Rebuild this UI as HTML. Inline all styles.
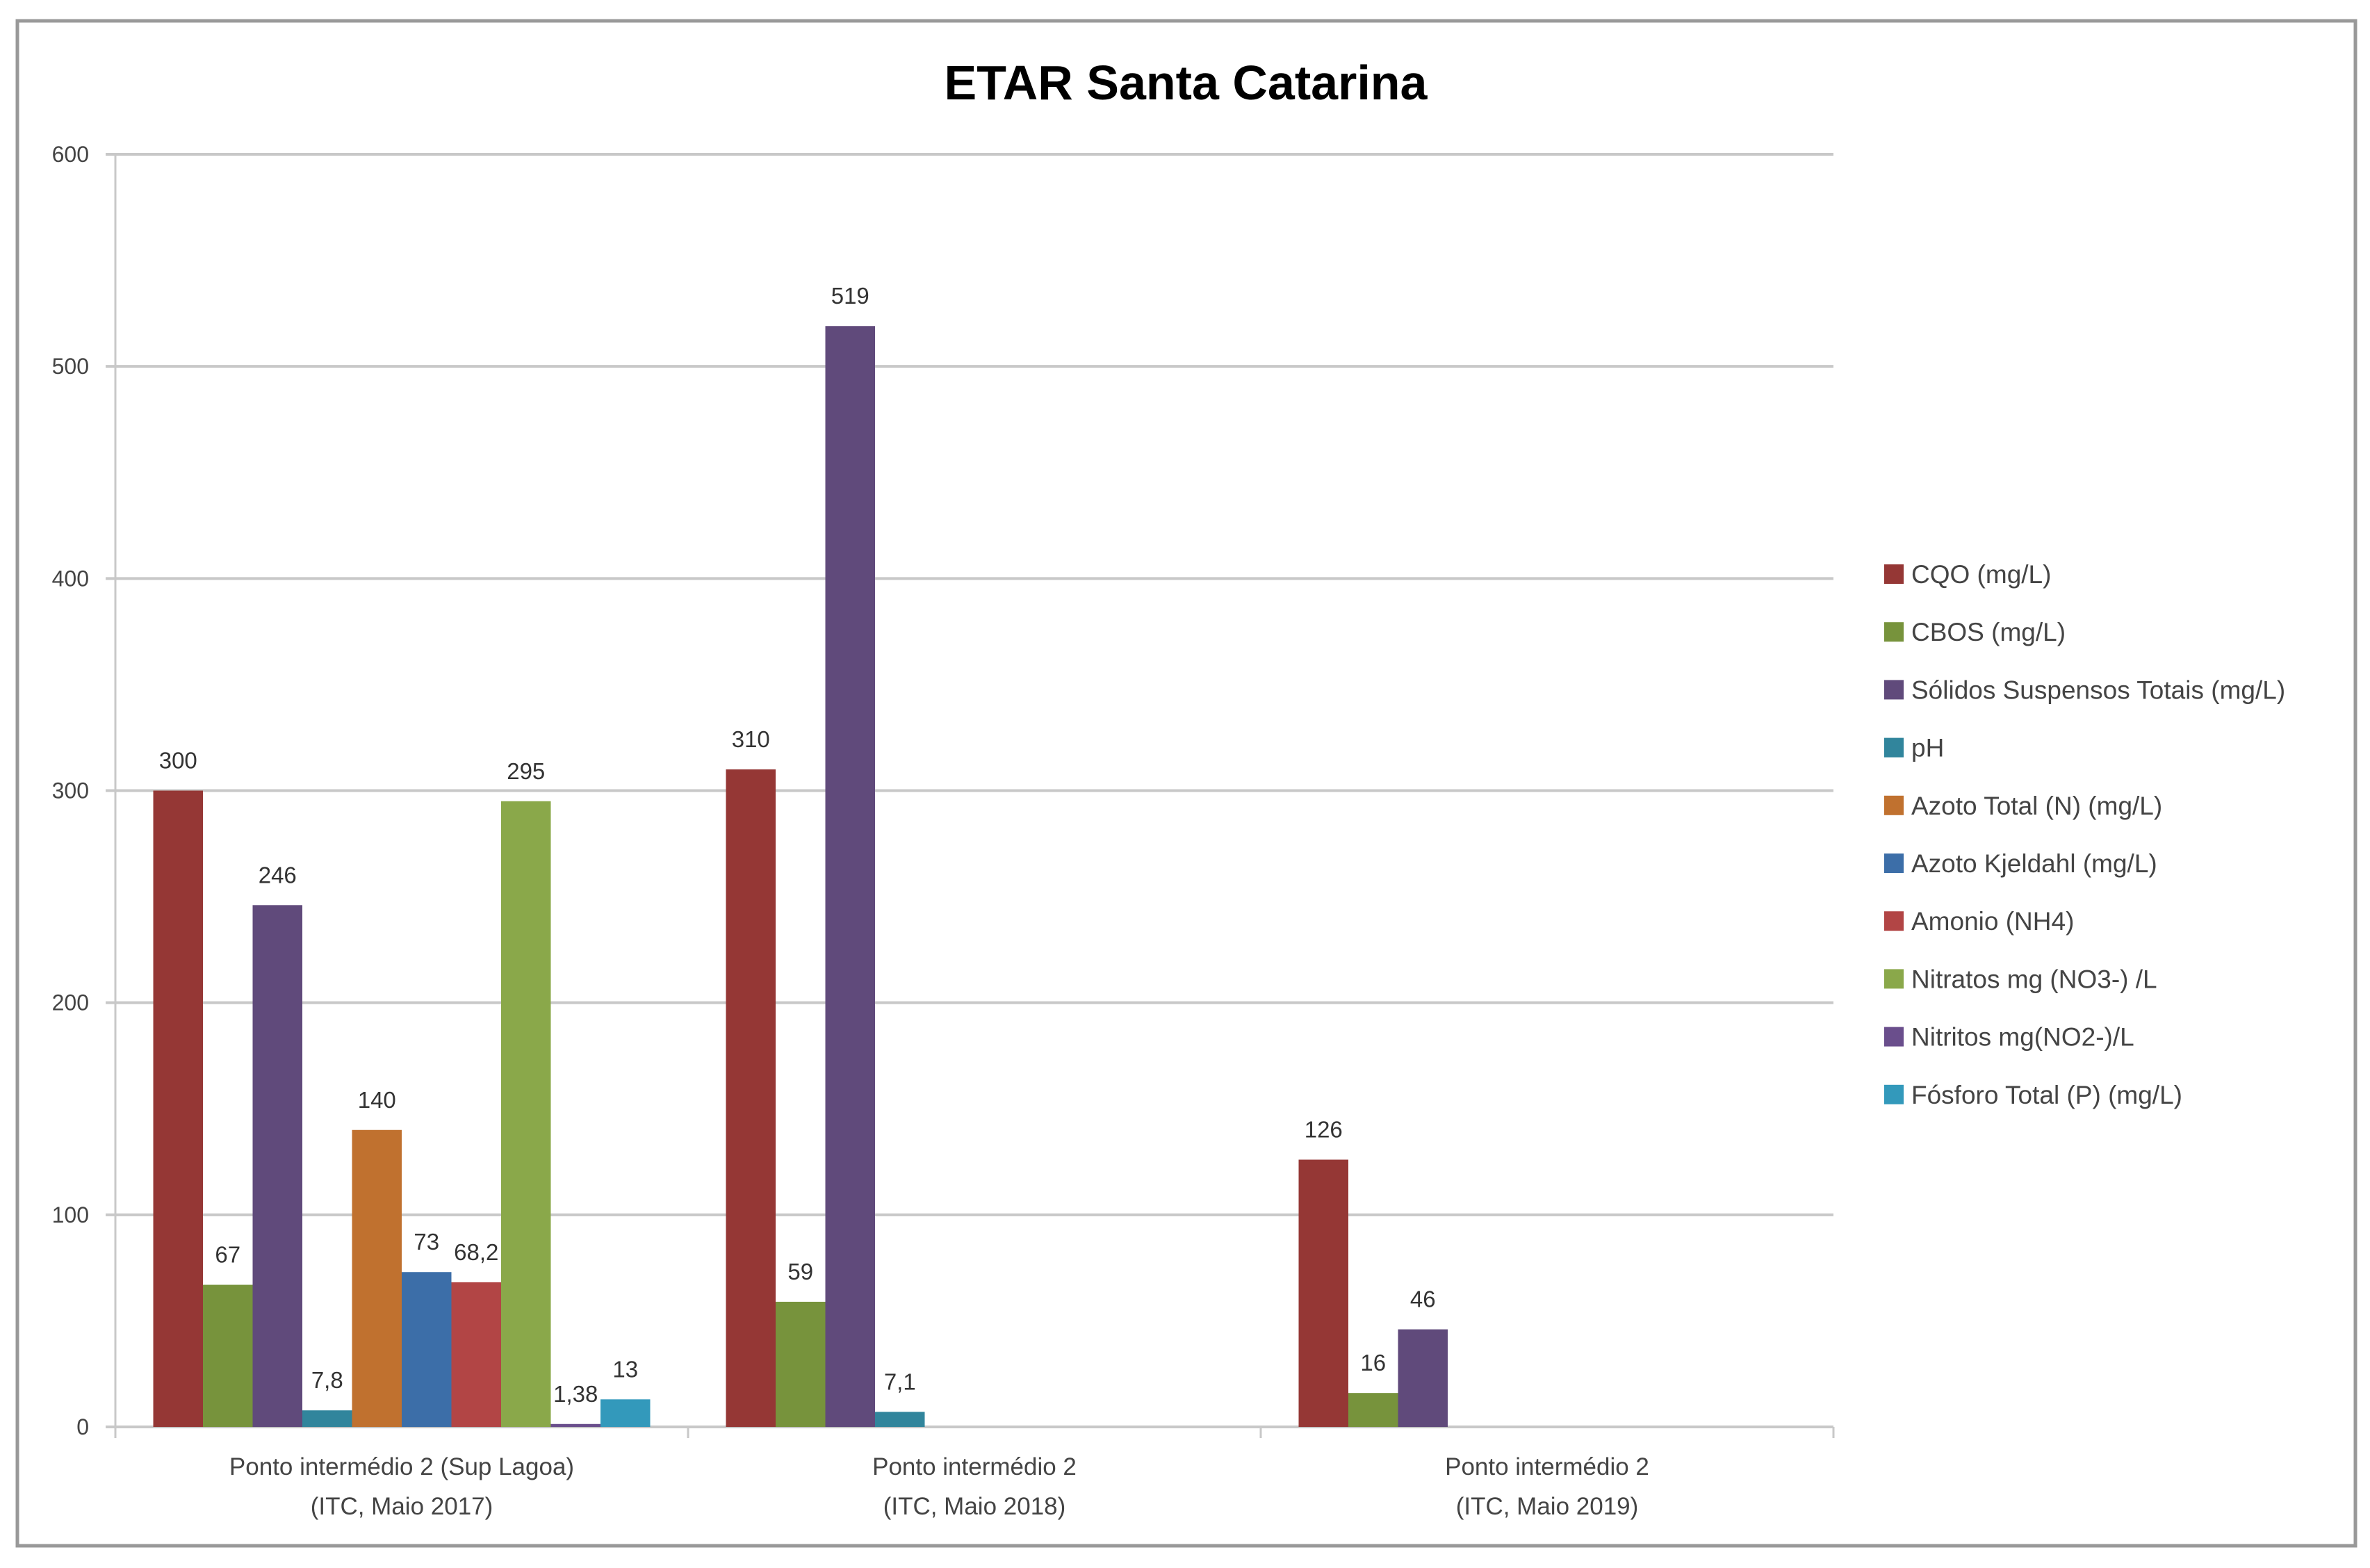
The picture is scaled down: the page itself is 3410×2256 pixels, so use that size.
<!DOCTYPE html>
<html><head><meta charset="utf-8"><style>
html,body{margin:0;padding:0;background:#fff;}
svg{display:block;font-family:"Liberation Sans",sans-serif;}
</style></head><body>
<svg id="chart" width="3410" height="2256" viewBox="0 0 3410 2256" xmlns="http://www.w3.org/2000/svg">
<rect x="25" y="30" width="3364" height="2194" fill="#fff" stroke="#999" stroke-width="5"/>
<text x="1706" y="143" text-anchor="middle" font-size="70" font-weight="bold" fill="#000">ETAR Santa Catarina</text>
<g id="grid"></g>
<g id="bars"></g>
<g id="labels"></g>
<g id="axes"></g>
<g id="legend"></g>
</svg>
<script>
const categories = [["Ponto intermédio 2 (Sup Lagoa)","(ITC, Maio 2017)"],["Ponto intermédio 2","(ITC, Maio 2018)"],["Ponto intermédio 2","(ITC, Maio 2019)"]];
const seriesNames = ["CQO (mg/L)","CBOS (mg/L)","Sólidos Suspensos Totais (mg/L)","pH","Azoto Total (N) (mg/L)","Azoto Kjeldahl (mg/L)","Amonio (NH4)","Nitratos mg (NO3-) /L","Nitritos mg(NO2-)/L","Fósforo Total (P) (mg/L)"];
const seriesColors = ["#953735","#77933C","#604A7B","#31859C","#C0712F","#3C6EA8","#B24545","#8AA84A","#6A4E8C","#3399BB"];
const cqo = [300,310,126];
const cbos = [67,59,16];
const sst = [246,519,46];
const ph = [7.8,7.1,null];
const azotoTotal = [140,null,null];
const kjeldahl = [73,null,null];
const amonio = [68.2,null,null];
const nitratos = [295,null,null];
const nitritos = [1.38,null,null];
const fosforo = [13,null,null];
const series = [cqo,cbos,sst,ph,azotoTotal,kjeldahl,amonio,nitratos,nitritos,fosforo];
const yTicks = [0,100,200,300,400,500,600];

const NS="http://www.w3.org/2000/svg";
const X0=166, X1=2638, Y0=2053, Y600=222;
const yScale=v=>Y0-(v/600)*(Y0-Y600);
const catW=(X1-X0)/categories.length;
const barW=71.5, pad=(catW-barW*series.length)/2;
const xBar=(c,s)=>X0+c*catW+pad+s*barW;
function mk(tag,attrs,parent){const e=document.createElementNS(NS,tag);for(const k in attrs)e.setAttribute(k,attrs[k]);parent.appendChild(e);return e;}
const grid=document.getElementById('grid'),bars=document.getElementById('bars'),labels=document.getElementById('labels'),axes=document.getElementById('axes'),legend=document.getElementById('legend');
yTicks.forEach(t=>{
  const y=yScale(t);
  const l=mk('line',{x1:X0-14,x2:X1,y1:y,y2:y,stroke:'#c8c8c8','stroke-width':4},grid);
  
  
  const tx=mk('text',{x:128,y:y+11,'text-anchor':'end','font-size':32,fill:'#444'},axes);
  tx.textContent=t;
  
  
});
const ax=mk('line',{x1:X0,x2:X0,y1:Y600,y2:Y0+14,stroke:'#c8c8c8','stroke-width':3},axes);


for(let c=0;c<=categories.length;c++){
  const x=X0+c*catW;
  const tk=mk('line',{x1:x,x2:x,y1:Y0,y2:Y0+16,stroke:'#c8c8c8','stroke-width':3},axes);
  
  
}
categories.forEach((cat,c)=>{
  const cx=X0+(c+0.5)*catW;
  cat.forEach((line,i)=>{
    const t=mk('text',{x:cx,y:2122+i*57,'text-anchor':'middle','font-size':35,fill:'#444'},axes);
    t.textContent=line;
    
    
  });
});
series.forEach((arr,s)=>{
  arr.forEach((v,c)=>{
    if(v===null)return;
    const x=xBar(c,s), y=yScale(v);
    const r=mk('rect',{x:x,y:y,width:barW,height:Math.max(Y0-y,2),fill:seriesColors[s]},bars);
    
    
    const t=mk('text',{x:x+barW/2,y:y-32,'text-anchor':'middle','font-size':33,fill:'#333'},labels);
    t.textContent=String(v).replace('.',',');
    
    
  });
});
seriesNames.forEach((n,s)=>{
  const y=826+s*83.2;
  const m=mk('rect',{x:2711,y:y-14,width:28,height:28,fill:seriesColors[s]},legend);
  
  
  const t=mk('text',{x:2750,y:y+13,'font-size':37,fill:'#444'},legend);
  t.textContent=n;
  
  
});
</script>
</body></html>
